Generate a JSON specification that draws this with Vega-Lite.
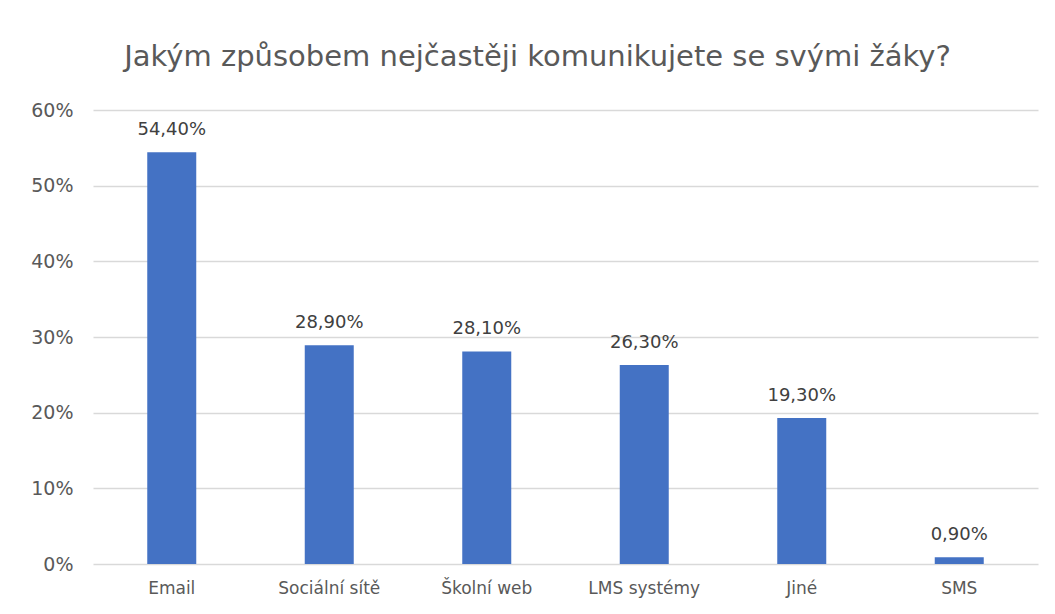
{
  "$schema": "https://vega.github.io/schema/vega-lite/v6.json",
  "autosize": "none",
  "width": 945,
  "height": 454,
  "padding": {"left": 93, "top": 110, "right": 17, "bottom": 50},
  "background": "white",
  "title": {
    "text": "Jakým způsobem nejčastěji komunikujete se svými žáky?",
    "font": "DejaVu Sans",
    "fontSize": 29,
    "fontWeight": "normal",
    "color": "#595959",
    "anchor": "middle",
    "dx": -28,
    "offset": 29
  },
  "config": {
    "locale": {"number": {"decimal": ",", "thousands": " ", "grouping": [3], "currency": ["", " Kč"]}},
    "view": {"stroke": null},
    "font": "DejaVu Sans"
  },
  "data": {
    "values": [
      {"kategorie": "Email", "podil": 0.544},
      {"kategorie": "Sociální sítě", "podil": 0.289},
      {"kategorie": "Školní web", "podil": 0.281},
      {"kategorie": "LMS systémy", "podil": 0.263},
      {"kategorie": "Jiné", "podil": 0.193},
      {"kategorie": "SMS", "podil": 0.009}
    ]
  },
  "encoding": {
    "x": {
      "field": "kategorie",
      "type": "nominal",
      "sort": null,
      "title": null,
      "scale": {"paddingInner": 0, "paddingOuter": 0},
      "axis": {
        "labelAngle": 0,
        "labelFont": "DejaVu Sans",
        "labelFontSize": 17,
        "labelColor": "#595959",
        "labelPadding": 16,
        "ticks": false,
        "domain": false
      }
    },
    "y": {
      "field": "podil",
      "type": "quantitative",
      "title": null,
      "scale": {"domain": [0, 0.6]},
      "axis": {
        "values": [0, 0.1, 0.2, 0.3, 0.4, 0.5, 0.6],
        "format": ".0%",
        "labelFont": "DejaVu Sans",
        "labelFontSize": 19,
        "labelColor": "#595959",
        "labelPadding": 20,
        "ticks": false,
        "domain": false,
        "gridColor": "#d9d9d9",
        "gridWidth": 1.5
      }
    }
  },
  "layer": [
    {"mark": {"type": "bar", "color": "#4472C4", "size": 49}},
    {
      "mark": {"type": "text", "dy": -13, "fontSize": 18, "font": "DejaVu Sans", "color": "#404040", "baseline": "bottom"},
      "encoding": {"text": {"field": "podil", "type": "quantitative", "format": ".2%"}}
    }
  ]
}
